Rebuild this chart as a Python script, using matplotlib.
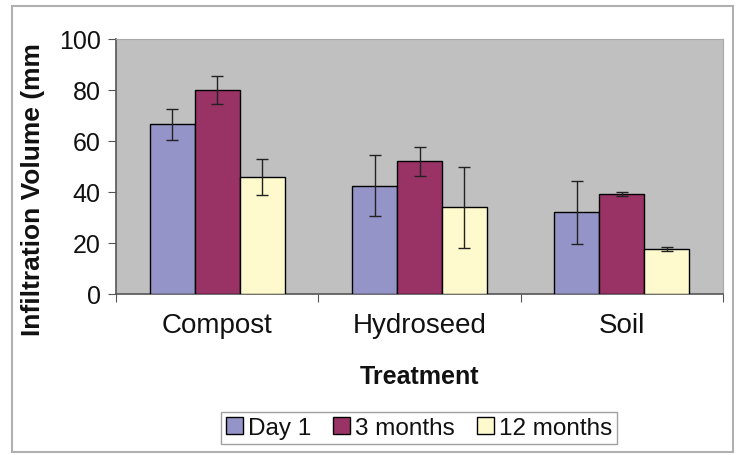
import numpy as np
import matplotlib.pyplot as plt
from matplotlib.patches import Rectangle

plt.rcParams['font.family'] = ['Liberation Sans', 'DejaVu Sans']

treatments = ["Compost", "Hydroseed", "Soil"]
series = ["Day 1", "3 months", "12 months"]
day1 = [66.5, 42.5, 32]
month3 = [80, 52, 39.2]
month12 = [46, 34, 17.6]
err_day1 = [6, 12, 12.3]
err_month3 = [5.5, 5.7, 0.8]
err_month12 = [7, 16, 0.7]

colors = ["#9494C8", "#993366", "#FFFACD"]

fig = plt.figure(figsize=(7.36, 4.56), dpi=100)
fig.patches.append(Rectangle((12 / 736, 1 - 453 / 456), 721 / 736, 446 / 456,
                             transform=fig.transFigure, fill=False,
                             edgecolor="#B0B0B0", linewidth=1.5))

ax = fig.add_axes([116 / 736, 1 - 295 / 456, 607 / 736, 255 / 456])
ax.set_facecolor("#C0C0C0")

x = np.arange(len(treatments))
w = 0.222
vals = [day1, month3, month12]
errs = [err_day1, err_month3, err_month12]
for i in range(3):
    ax.bar(x + (i - 1) * w, vals[i], w, color=colors[i], edgecolor="black",
           linewidth=1.0, label=series[i], yerr=errs[i], capsize=4,
           error_kw=dict(ecolor="#222222", elinewidth=1.0, capthick=1.0),
           zorder=3)

ax.set_xlim(-0.5, 2.5)
ax.set_ylim(0, 100)
ax.set_yticks(range(0, 101, 20))
ax.set_xticks([-0.5, 0.5, 1.5, 2.5])
ax.set_xticklabels([])
ax.set_xticks(x, minor=True)
ax.set_xticklabels(treatments, minor=True, fontsize=20, color="#111111")
ax.tick_params(axis="x", which="minor", length=0, pad=13)
ax.tick_params(axis="x", which="major", length=6, direction="out", color="#555555")
ax.tick_params(axis="y", length=6, direction="out", color="#555555", labelsize=18,
               pad=5, labelcolor="#111111")

for s in ["top", "right"]:
    ax.spines[s].set_color("#A8A8A8")
for s in ["left", "bottom"]:
    ax.spines[s].set_color("#555555")
    ax.spines[s].set_linewidth(1.2)

fig.text(420 / 736, 1 - 377 / 456, "Treatment", fontsize=18, fontweight="bold",
         ha="center", va="center", color="#111111")
fig.text(33 / 736, 1 - 336 / 456, "Infiltration Volume (mm", fontsize=19,
         fontweight="bold", rotation=90, ha="center", va="bottom", color="#111111")

leg = fig.legend(loc="center", bbox_to_anchor=(419 / 736, 1 - 429 / 456), ncol=3,
                 fontsize=17.5, frameon=True, fancybox=False, edgecolor="#888888",
                 handlelength=0.7, handleheight=0.7, handletextpad=0.2,
                 columnspacing=0.9, borderpad=0.2)
leg.get_frame().set_linewidth(1.0)
for t in leg.get_texts():
    t.set_color("#111111")

fig.savefig("out.png", dpi=100)
